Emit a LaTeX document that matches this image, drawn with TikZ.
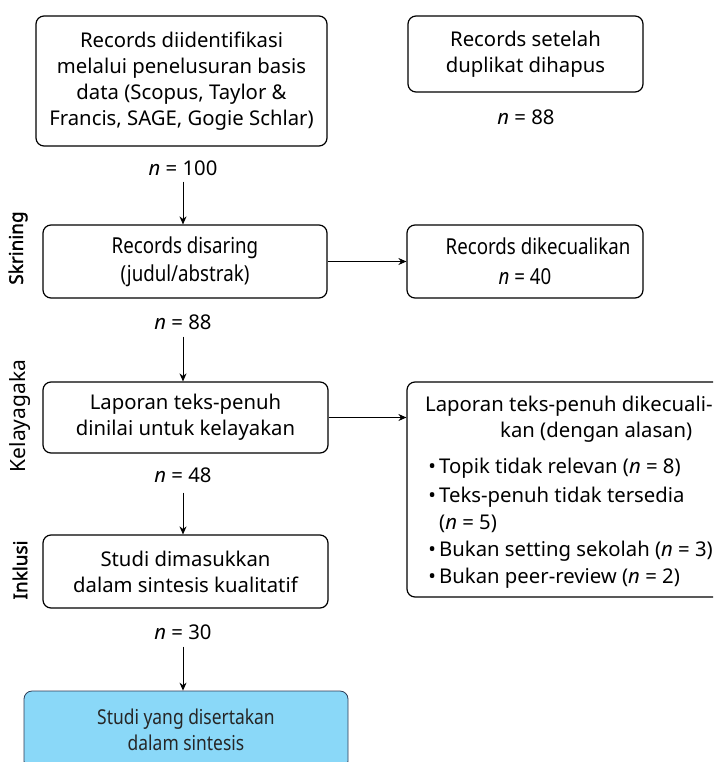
\documentclass[tikz,border=0pt]{standalone}
\usepackage{fontspec}
\setmainfont{Noto Sans}
\newfontfamily\narrowfont[FakeStretch=0.85]{Noto Sans}
\newfontfamily\heavyfont[FakeBold=1.6]{Noto Sans}
\usetikzlibrary{arrows.meta}
\definecolor{finalblue}{HTML}{8AD8F8}
\definecolor{finaledge}{HTML}{2E3B55}

\begin{document}
\begin{tikzpicture}[x=1pt,y=-1pt,
  font=\fontsize{20.3}{26}\selectfont,
  box/.style={draw, line width=1.2pt, rounded corners=8pt, align=center, inner sep=0pt},
  count/.style={inner sep=1pt},
  phase/.style={rotate=90, inner sep=0pt, font=\fontsize{20}{22}\selectfont},
  flow/.style={-{Stealth[length=8pt,width=7pt]}, line width=1pt}]
  \clip (0,0) rectangle (713,762);
  \fill[white] (0,0) rectangle (713,762);
  % identifikasi
  \node[box, minimum width=291pt, minimum height=130pt] (ident) at (181.5,81)
    {Records diidentifikasi\\melalui penelusuran basis\\data (Scopus, Taylor \&\\Francis, SAGE, Gogie Schlar)};
  \node[count] (n100) at (183,168) {\textit{n} = 100};
  \node[box, minimum width=235pt, minimum height=76pt] (dup) at (525.5,54)
    {Records setelah\\duplikat dihapus};
  \node[count] (ndup) at (526,117) {\textit{n} = 88};
  % skrining
  \node[phase, font=\fontsize{19}{22}\heavyfont] (skrining) at (18,248) {Skrining};
  \node[box, minimum width=284pt, minimum height=73pt, font=\fontsize{22}{28}\narrowfont] (screen) at (185,261.5)
    {Records disaring\\(judul/abstrak)};
  \node[box, minimum width=236pt, minimum height=73pt, font=\fontsize{22}{30}\narrowfont] (excl) at (525,261.5)
    {\hspace*{26pt}Records dikecualikan\\\textit{n} = 40};
  \node[count] (n88) at (183,322) {\textit{n} = 88};
  % kelayakan
  \node[phase, font=\fontsize{21}{22}\selectfont] (kelayakan) at (20,416) {Kelayagaka};
  \node[box, minimum width=285pt, minimum height=71pt] (elig) at (185.5,417.5)
    {Laporan teks-penuh\\dinilai untuk kelayakan};
  \node[count] (n48) at (183,475) {\textit{n} = 48};
  \node[box, minimum width=333pt, minimum height=215pt] (fulltext) at (573.5,489.5) {};
  \node[anchor=north west, align=left, inner sep=0pt, font=\fontsize{20.3}{27}\selectfont] (reasons) at (425,396)
    {Laporan teks-penuh dikecuali-\\[-1pt]
     \hspace*{75pt}kan (dengan alasan)\\[9pt]
     \makebox[14pt][c]{\textbullet}Topik tidak relevan (\textit{n} = 8)\\[2pt]
     \makebox[14pt][c]{\textbullet}Teks-penuh tidak tersedia\\
     \hspace*{14pt}(\textit{n} = 5)\\
     \makebox[14pt][c]{\textbullet}Bukan setting sekolah (\textit{n} = 3)\\
     \makebox[14pt][c]{\textbullet}Bukan peer-review (\textit{n} = 2)};
  % inklusi
  \node[phase, font=\fontsize{19}{22}\heavyfont] (inklusi) at (20,570) {Inklusi};
  \node[box, minimum width=285pt, minimum height=73pt] (incl) at (185.5,571.5)
    {Studi dimasukkan\\dalam sintesis kualitatif};
  \node[count] (n30) at (183,632) {\textit{n} = 30};
  \node[box, draw=finaledge, line width=0.8pt, fill=finalblue, minimum width=324pt, minimum height=78pt,
        font=\fontsize{20.5}{26}\narrowfont, text=black!85] (final) at (186,730)
    {Studi yang disertakan\\dalam sintesis};
  % panah
  \draw[flow, shorten <=5pt] (n100.south) -- (n100.south |- screen.north);
  \draw[flow] (screen.east) -- (excl.west);
  \draw[flow, shorten <=6pt] (n88.south) -- (n88.south |- elig.north);
  \draw[flow] (elig.east) -- (elig.east -| fulltext.west);
  \draw[flow, shorten <=9pt] (n48.south) -- (n48.south |- incl.north);
  \draw[flow, shorten <=6pt] (n30.south) -- (n30.south |- final.north);
\end{tikzpicture}
\end{document}
